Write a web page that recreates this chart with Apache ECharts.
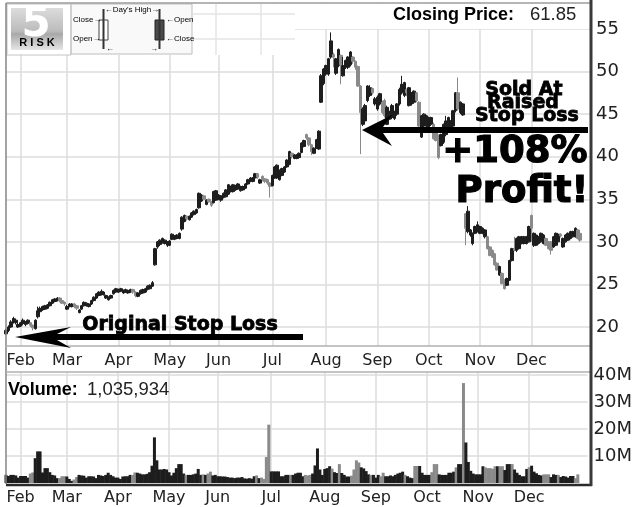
<!DOCTYPE html>
<html>
<head>
<meta charset="utf-8">
<title>Closing Price</title>
<script src="https://cdn.jsdelivr.net/npm/echarts@6/dist/echarts.min.js"></script>
<style>
  html, body { margin: 0; padding: 0; background: #ffffff; }
  #chart { width: 635px; height: 507px; }
</style>
</head>
<body>
<div id="chart"></div>
<script>
  // trading days per month, Jan is only the stub before the Feb gridline
  const monthNames = ['Jan', 'Feb', 'Mar', 'Apr', 'May', 'Jun', 'Jul', 'Aug', 'Sep', 'Oct', 'Nov', 'Dec'];
  const monthDays = [6, 19, 21, 21, 20, 22, 22, 21, 21, 21, 21, 25];
  const priceTicks = [20, 25, 30, 35, 40, 45, 50, 55];
  const volumeTicks = [10, 20, 30, 40];

  const openPrices = [
    19.2,19.6,20.0,20.6,20.5,20.0,20.1,20.4,20.3,20.4,20.5,20.2,19.8,21.2,21.8,22.0,22.1,22.2,22.5,22.8,
    23.0,23.1,23.4,23.1,22.9,22.1,22.4,22.4,22.7,22.5,21.7,22.1,22.5,22.5,22.4,22.7,23.1,23.4,23.7,23.8,
    23.8,23.4,23.2,23.4,23.9,24.1,24.1,24.2,24.0,24.1,24.0,24.1,24.4,24.1,23.6,23.9,24.0,24.1,24.4,24.5,
    24.8,27.3,29.4,29.7,29.9,29.8,29.6,29.6,30.3,30.3,30.4,30.4,31.5,32.4,33.0,32.6,32.9,33.2,33.4,34.0,
    34.8,35.4,34.4,35.0,34.7,34.6,34.9,35.0,34.9,35.2,35.3,35.6,35.9,35.9,36.1,36.2,36.0,36.1,36.3,36.8,
    37.1,37.1,37.5,38.0,36.9,37.7,37.4,37.3,36.9,36.6,37.5,37.5,37.3,37.8,38.2,38.8,39.1,40.4,39.8,39.8,
    39.9,40.5,41.2,42.6,42.2,41.4,40.4,41.0,40.9,46.4,48.6,49.7,49.7,51.7,52.0,49.8,50.7,51.9,49.5,50.5,
    50.5,50.8,51.7,51.2,50.6,48.3,43.8,44.2,46.6,47.2,48.0,46.2,45.6,46.2,46.4,46.6,43.8,44.4,44.6,44.5,
    45.0,46.2,47.5,47.2,47.9,46.0,46.2,46.4,47.5,46.4,42.3,43.6,43.6,43.0,43.8,43.8,42.8,42.5,41.3,41.7,
    42.6,43.0,43.4,43.6,45.4,47.5,45.2,44.9,33.3,31.2,30.8,29.8,31.0,31.2,31.0,31.0,30.6,30.6,29.4,29.0,
    28.6,27.5,26.1,26.3,25.5,24.9,25.5,27.8,29.2,29.0,29.2,29.8,29.8,29.8,30.0,33.1,29.6,29.6,29.8,30.0,
    29.8,30.4,30.0,30.0,29.4,29.6,30.0,30.9,29.4,30.0,30.2,30.4,30.6,30.6,31.4,31.0
  ];
  const closePrices = [
    19.6,20.0,20.6,21.0,20.8,20.3,20.5,20.8,20.6,20.8,20.2,19.9,20.8,21.9,22.2,22.4,22.5,22.6,22.9,23.2,
    23.3,23.4,23.1,22.8,22.7,22.4,22.7,22.7,22.4,22.2,22.0,22.5,22.9,22.8,22.7,23.1,23.5,23.9,24.1,24.2,
    24.1,23.7,23.5,23.7,24.3,24.5,24.4,24.5,24.3,24.4,24.3,24.4,24.1,23.7,24.0,24.3,24.4,24.5,24.8,24.9,
    25.2,29.2,30.0,30.2,30.4,30.2,30.0,30.1,30.9,30.7,30.8,31.0,32.9,33.1,32.7,33.0,33.4,33.6,33.8,35.7,
    35.5,35.0,34.9,34.7,34.3,35.9,36.0,35.5,35.4,35.7,36.1,36.7,36.5,36.7,36.6,36.8,36.5,36.5,36.8,37.3,
    37.5,37.5,38.0,37.6,37.3,37.3,37.1,36.9,36.5,37.8,38.8,39.0,38.4,38.6,38.8,39.6,40.6,40.0,40.2,40.2,
    40.4,41.6,41.9,42.2,41.4,40.6,41.0,42.0,43.0,49.5,50.3,50.7,51.5,53.6,51.7,51.5,52.6,50.8,50.7,51.3,
    51.7,52.3,51.2,50.5,48.3,45.2,45.6,46.0,48.3,48.1,47.5,46.8,47.0,47.4,45.2,44.8,45.8,45.0,46.0,45.2,
    46.2,47.9,48.5,48.7,47.5,48.1,47.5,47.7,46.6,43.6,44.8,45.0,44.8,44.6,44.6,42.1,41.9,39.9,42.6,43.8,
    44.2,44.6,44.2,45.4,47.5,45.6,46.4,46.2,31.6,33.6,31.4,31.0,31.8,32.0,31.8,31.6,31.4,29.2,28.4,28.2,
    27.3,26.7,27.1,25.1,24.5,25.7,27.8,29.2,29.0,30.4,30.6,30.6,30.6,30.6,31.8,31.6,31.0,30.8,30.6,31.0,
    30.8,29.6,29.2,29.0,30.6,31.0,30.9,30.7,30.4,30.8,31.0,31.2,31.2,31.6,30.4,30.2
  ];
  const lowPrices = [
    19.1,19.4,19.9,20.4,20.3,19.9,20.0,20.2,20.1,20.3,20.0,19.6,19.7,21.0,21.6,21.9,22.0,22.1,22.4,22.7,
    22.9,23.0,22.9,22.7,22.5,22.0,22.3,22.3,22.2,22.0,21.6,22.0,22.4,22.4,22.3,22.6,23.0,23.3,23.6,23.7,
    23.7,23.3,23.1,23.3,23.8,24.0,24.0,24.1,23.9,24.0,23.9,24.0,23.9,23.5,23.5,23.8,23.9,24.0,24.3,24.4,
    24.7,27.2,29.2,29.5,29.8,29.7,29.4,29.5,30.2,30.2,30.3,30.3,31.3,32.3,32.5,32.5,32.8,33.1,33.3,33.9,
    34.7,34.9,34.3,34.6,34.1,34.5,34.8,34.9,34.7,35.1,35.2,35.5,35.8,35.8,36.0,36.1,35.9,36.0,36.2,36.7,
    37.0,37.0,37.4,37.4,36.8,37.1,36.9,36.7,35.2,36.5,37.4,37.4,37.2,37.7,38.1,38.7,39.0,39.8,39.7,39.7,
    39.8,40.4,41.1,42.0,41.2,40.2,40.3,40.9,40.8,46.3,48.4,49.5,49.5,51.5,50.5,49.6,50.5,48.5,49.4,50.3,
    50.3,50.6,50.9,50.2,48.2,40.3,43.6,44.0,46.4,47.0,47.3,46.0,45.4,46.0,45.0,44.6,43.7,44.3,44.4,44.3,
    44.8,46.0,47.3,47.0,47.1,45.9,46.0,46.2,46.4,43.5,42.2,43.4,43.4,42.9,43.6,42.0,41.8,39.7,41.2,41.5,
    42.4,42.8,43.2,43.4,45.2,45.4,45.0,44.8,29.6,31.0,30.6,29.6,30.9,31.1,30.9,30.9,30.4,29.1,28.3,28.1,
    27.2,26.6,26.0,25.0,24.4,24.8,25.4,27.7,28.9,28.8,29.1,29.7,29.7,29.7,29.9,30.0,29.4,29.5,29.7,29.9,
    29.7,29.5,29.1,28.5,29.3,29.5,29.9,30.5,29.3,29.9,30.1,30.3,30.5,30.5,30.3,30.0
  ];
  const highPrices = [
    19.8,20.2,20.8,21.2,21.0,20.5,20.6,21.0,20.7,20.9,20.6,20.3,20.9,22.4,22.4,22.5,22.6,22.7,23.0,23.3,
    23.4,23.5,23.5,23.2,23.0,22.6,22.8,22.8,22.8,22.6,22.1,22.6,23.0,22.9,22.8,23.2,23.6,24.0,24.2,24.4,
    24.2,23.8,23.6,23.8,24.4,24.6,24.5,24.6,24.4,24.5,24.4,24.5,24.5,24.2,24.1,24.4,24.5,24.6,24.9,25.0,
    25.4,29.3,30.1,30.3,30.5,30.3,30.1,30.2,31.0,30.8,30.9,31.1,33.0,33.2,33.1,33.1,33.5,33.7,33.9,35.8,
    35.6,35.5,35.0,35.1,34.8,36.0,36.1,35.6,35.5,35.8,36.2,36.8,36.6,36.8,36.7,36.9,36.6,36.6,36.9,37.4,
    37.6,37.6,38.1,38.1,37.4,37.8,37.5,37.4,37.0,37.9,38.9,39.1,38.5,38.7,38.9,39.7,40.7,40.5,40.3,40.3,
    40.5,41.7,42.0,42.7,42.3,41.5,41.1,42.1,43.1,49.7,50.4,50.8,51.6,54.6,52.2,51.6,52.7,52.0,51.7,51.4,
    51.8,52.4,51.8,51.3,50.7,48.4,45.8,46.2,48.4,48.4,48.1,47.0,47.2,47.5,46.6,46.8,46.0,45.4,46.2,45.4,
    46.3,48.1,49.5,48.8,48.0,48.2,47.6,47.8,47.6,46.5,44.9,45.1,44.9,44.7,44.7,44.0,42.9,42.6,42.7,43.9,
    44.8,44.7,44.3,45.5,47.6,49.3,46.5,46.3,33.4,34.2,31.5,31.1,31.9,32.4,31.9,31.7,31.5,30.7,29.5,29.1,
    28.7,27.6,27.2,26.4,25.6,25.8,27.9,29.3,30.6,30.5,30.7,30.7,30.7,30.7,31.9,33.2,31.1,30.9,30.7,31.1,
    30.9,30.5,30.1,30.1,30.7,31.1,31.0,31.0,30.5,30.9,31.1,31.3,31.3,31.7,31.5,31.1
  ];
  // volume in millions
  const volumes = [
    3.0,2.6,3.0,3.0,2.8,2.0,2.6,2.6,2.6,2.0,3.5,3.9,9.2,11.7,11.7,3.9,5.5,5.5,4.0,3.0,
    2.8,1.8,1.8,2.5,2.5,2.4,1.5,0.8,1.3,2.2,3.0,2.8,2.7,2.0,2.5,2.5,2.4,1.8,3.0,2.8,
    2.6,3.0,3.8,3.0,2.5,2.0,2.0,1.5,2.4,2.5,2.5,3.0,3.0,3.9,3.8,3.5,3.2,3.2,3.4,4.0,
    6.4,16.9,8.4,5.0,5.0,5.2,5.0,4.0,2.8,3.8,5.5,7.0,7.0,3.5,3.0,3.0,3.0,3.2,3.5,5.2,
    3.0,3.2,3.0,3.5,4.2,2.8,3.0,2.5,2.5,2.4,2.4,2.2,2.0,2.0,1.8,2.0,2.0,2.2,1.7,1.6,
    1.8,1.6,2.5,2.8,1.8,2.0,1.5,9.6,21.6,4.3,4.3,4.3,4.3,2.5,2.5,3.0,3.0,3.0,3.0,3.5,
    3.8,3.8,2.5,3.0,2.8,3.0,3.5,6.5,12.8,5.0,3.0,5.2,5.5,6.2,5.3,4.0,3.7,7.0,3.7,3.0,
    2.4,2.4,2.7,5.0,8.4,7.6,5.8,5.4,4.4,3.2,3.0,3.0,2.0,3.0,2.5,3.8,2.5,2.5,2.8,2.5,
    3.0,3.5,3.8,4.2,3.0,2.5,2.0,1.8,6.3,6.3,6.3,3.8,3.0,3.0,3.0,4.0,7.0,7.0,3.2,3.0,
    3.0,3.0,3.8,3.8,4.2,5.8,7.0,7.0,37.0,15.0,7.8,4.5,3.5,3.2,3.2,3.2,6.2,5.8,5.5,5.5,
    5.3,6.2,6.2,6.2,6.2,4.8,7.0,7.0,7.0,5.0,3.8,3.0,2.5,2.5,5.2,5.8,6.4,4.2,3.6,3.0,
    2.8,3.2,3.2,3.2,2.2,3.2,3.0,3.0,2.2,2.6,2.4,2.0,2.6,2.6,1.8,3.2
  ];

  const DARK = '#1d1d1d';
  const GRAY = '#8a8a8a';
  const GRID = '#dcdcdc';
  const AXIS_FONT = '"DejaVu Sans", sans-serif';
  const HEAVY = 'bold 19px "DejaVu Sans", sans-serif';
  const HUGE = 'bold 37px "DejaVu Sans", sans-serif';

  const days = [];
  monthNames.forEach((name, m) => {
    for (let d = 1; d <= monthDays[m]; d++) days.push(name + ' ' + d);
  });
  const isMonthStart = (index, value) => value.endsWith(' 1') && !value.startsWith('Jan');

  const candles = openPrices.map((o, i) => [o, closePrices[i], lowPrices[i], highPrices[i]]);
  const volumeBars = volumes.map((v, i) => ({
    value: v,
    itemStyle: { color: closePrices[i] >= openPrices[i] ? DARK : GRAY }
  }));

  function dayAxis(gridIndex, margin) {
    return {
      type: 'category',
      gridIndex: gridIndex,
      data: days,
      boundaryGap: false,
      axisLine: { show: false },
      axisTick: { show: false },
      axisLabel: {
        interval: isMonthStart,
        formatter: value => value.split(' ')[0],
        margin: margin,
        color: '#222',
        fontFamily: AXIS_FONT,
        fontSize: 16
      },
      splitLine: { show: true, interval: isMonthStart, lineStyle: { color: GRID, width: 1.5 } }
    };
  }

  function valueAxis(gridIndex, min, max, ticks, format) {
    return {
      type: 'value',
      gridIndex: gridIndex,
      position: 'right',
      min: min,
      max: max,
      axisLine: { show: false },
      axisTick: { show: false, customValues: ticks },
      axisLabel: {
        customValues: ticks,
        formatter: format,
        margin: 6,
        padding: [4, 0, 0, 0],
        color: '#222',
        fontFamily: AXIS_FONT,
        fontSize: 18
      },
      splitLine: { show: true, lineStyle: { color: GRID, width: 1.5 } }
    };
  }

  function line(x1, y1, x2, y2, color, width) {
    return { type: 'line', z: 50, shape: { x1, y1, x2, y2 }, style: { stroke: color, lineWidth: width } };
  }
  function label(text, x, y, font, align, fill, stroke) {
    return {
      type: 'text', z: 60, x: x, y: y,
      style: {
        text: text, font: font, fill: fill || '#000',
        stroke: stroke ? '#000' : null, lineWidth: stroke || 0,
        textAlign: align || 'left', textVerticalAlign: 'middle'
      }
    };
  }
  function rect(x, y, width, height, fill, stroke) {
    return { type: 'rect', z: 40, shape: { x, y, width, height }, style: { fill: fill, stroke: stroke || null, lineWidth: 1 } };
  }
  function arrow(points) {
    return { type: 'polygon', z: 55, shape: { points: points }, style: { fill: '#000' } };
  }

  const SMALL = '8px "Liberation Sans", sans-serif';

  const annotations = [
    // pasted top strip, covers the plot grid
    rect(7, 4, 288, 51, '#ffffff'),
    rect(295, 4, 294, 25, '#ffffff'),
    line(193, 14, 295, 14, '#e4e4e4', 1.5),
    line(193, 39, 295, 39, '#e4e4e4', 1.5),
    line(216, 4, 216, 55, '#e4e4e4', 1.5),
    line(261, 4, 261, 55, '#e4e4e4', 1.5),

    // logo
    {
      type: 'rect', z: 45, shape: { x: 11, y: 8, width: 52, height: 42 },
      style: {
        fill: {
          type: 'linear', x: 0, y: 0, x2: 0, y2: 1,
          colorStops: [
            { offset: 0, color: '#dcdcdc' },
            { offset: 0.55, color: '#bcbcbc' },
            { offset: 0.62, color: '#a8a8a8' },
            { offset: 1, color: '#e6e6e6' }
          ]
        }
      }
    },
    label('5', 36, 25, 'bold 42px "DejaVu Sans", sans-serif', 'center', '#ffffff'),
    label('R I S K', 37, 43, 'bold 11px "Liberation Sans", sans-serif', 'center'),

    // candle key
    rect(71, 4, 121, 50, '#f9f9f9', '#bdbdbd'),
    rect(7, 4, 64, 51, null, '#c4c4c4'),
    line(103.5, 9, 103.5, 49, '#333', 2),
    rect(99, 20, 9, 20, '#ffffff', '#444'),
    line(159.5, 9, 159.5, 49, '#333', 2),
    rect(155, 20, 9, 20, '#4a4a4a', '#222'),
    label('Close→', 73, 20, SMALL),
    label('Open→', 73, 39, SMALL),
    label('←Day\'s High→', 132, 10, SMALL, 'center'),
    label('←Open', 166, 20, SMALL),
    label('←Close', 166, 39, SMALL),
    label('←', 106, 49, SMALL),
    label('→', 150, 49, SMALL),

    // frame
    line(6, 3, 590, 3, '#9c9c9c', 1.5),
    line(6, 3, 6, 484, '#858585', 1.5),
    line(6, 346, 590, 346, '#b0b0b0', 1.5),
    line(6, 372, 590, 372, '#b0b0b0', 1.5),
    line(6, 485, 592, 485, '#2a2a2a', 2.5),
    line(591, 0, 591, 486, '#3a3a3a', 3),

    label('Closing Price:', 393, 15, 'bold 18px "Liberation Sans", sans-serif'),
    label('61.85', 530, 15, '18.5px "Liberation Sans", sans-serif', 'left', '#222'),
    label('Volume:', 8, 390, 'bold 18px "Liberation Sans", sans-serif'),
    label('1,035,934', 87, 390, '18.5px "Liberation Sans", sans-serif', 'left', '#222'),

    // callouts
    label('Sold At', 524, 90, HEAVY, 'center', '#000', 0.8),
    label('Raised', 523, 103, HEAVY, 'center', '#000', 0.8),
    label('Stop Loss', 527, 116, HEAVY, 'center', '#000', 0.8),
    label('+108%', 515, 152, HUGE, 'center', '#000', 1.2),
    label('Profit!', 522, 192, HUGE, 'center', '#000', 1.2),
    label('Original Stop Loss', 180, 325, HEAVY, 'center', '#000', 0.8),
    arrow([[362, 130], [392, 115], [383, 127], [588, 127], [588, 133], [383, 133], [392, 146]]),
    arrow([[15, 337], [71, 327], [57, 334], [303, 334], [303, 340], [57, 340], [71, 348]])
  ];

  const chart = echarts.init(document.getElementById('chart'), null, { renderer: 'canvas' });

  chart.setOption({
    animation: false,
    backgroundColor: '#ffffff',
    grid: [
      { left: 6, top: 3, width: 584, height: 343 },
      { left: 6, top: 372, width: 584, height: 111 }
    ],
    xAxis: [dayAxis(0, 7), dayAxis(1, 7)],
    yAxis: [
      valueAxis(0, 17.77, 58.05, priceTicks, value => value),
      valueAxis(1, 0, 41.1, volumeTicks, value => value + 'M')
    ],
    series: [
      {
        name: 'Price',
        type: 'candlestick',
        xAxisIndex: 0,
        yAxisIndex: 0,
        barWidth: 3,
        data: candles,
        itemStyle: {
          color: DARK,
          color0: GRAY,
          borderColor: DARK,
          borderColor0: GRAY,
          borderWidth: 1
        }
      },
      {
        name: 'Volume',
        type: 'bar',
        xAxisIndex: 1,
        yAxisIndex: 1,
        barWidth: 3,
        data: volumeBars
      }
    ],
    graphic: { elements: annotations }
  });
</script>
</body>
</html>
